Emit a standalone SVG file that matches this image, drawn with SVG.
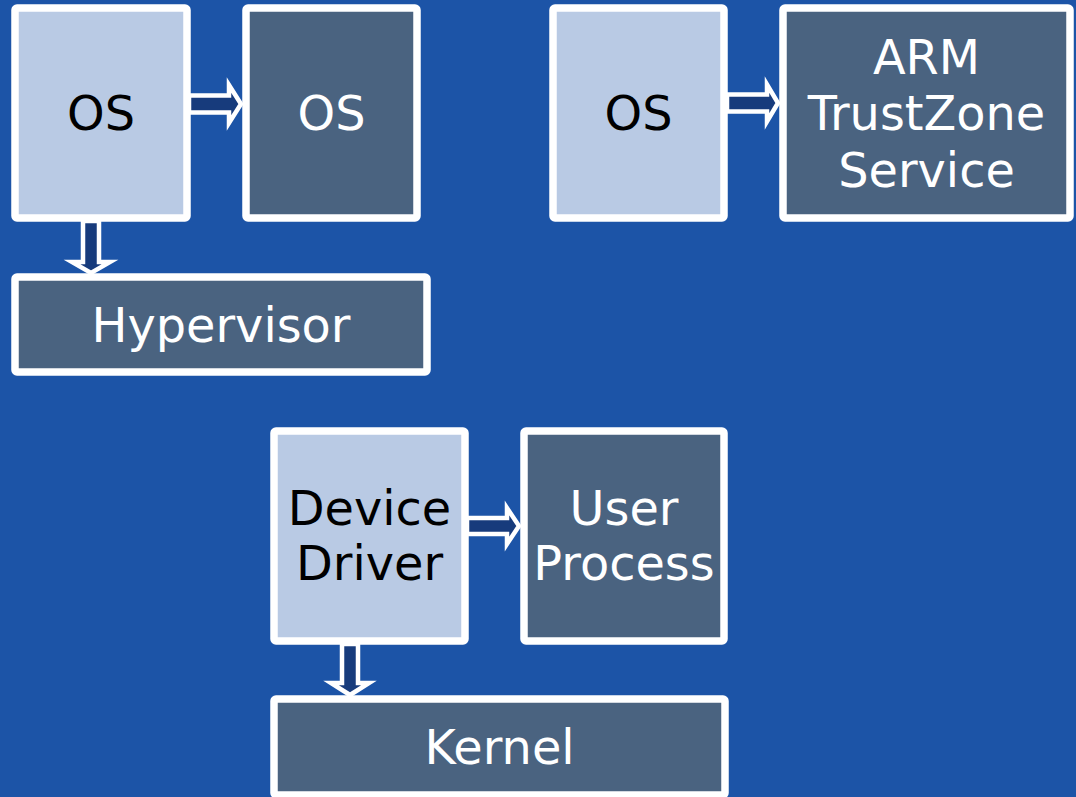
<svg xmlns="http://www.w3.org/2000/svg" width="1076" height="797" viewBox="0 0 1076 797">
  <style>
    .box { stroke: #ffffff; stroke-width: 7.5; stroke-linejoin: round; }
    .light { fill: #b9cae4; }
    .dark { fill: #4a6380; }
    .lbl { font-family: "DejaVu Sans", "Liberation Sans", sans-serif; font-size: 47.8px; text-anchor: middle; }
    .lbl-dark { fill: #000000; }
    .lbl-light { fill: #ffffff; }
    .arrow { fill: #173b7c; stroke: #ffffff; stroke-width: 4.5; stroke-linejoin: miter; }
  </style>

  <!-- background -->
  <rect x="0" y="0" width="1076" height="797" fill="#1c54a7"/>

  <g id="os-guest">
    <rect class="box light" x="15" y="8" width="172" height="210" rx="2"/>
    <text class="lbl lbl-dark" x="101" y="130">OS</text>
  </g>

  <g id="os-host">
    <rect class="box dark" x="246" y="8" width="171" height="210" rx="2"/>
    <text class="lbl lbl-light" x="331.5" y="130">OS</text>
  </g>

  <g id="os-secure">
    <rect class="box light" x="553" y="8" width="171" height="210" rx="2"/>
    <text class="lbl lbl-dark" x="638.5" y="130">OS</text>
  </g>

  <g id="trustzone">
    <rect class="box dark" x="783" y="8" width="287" height="210" rx="2"/>
    <text class="lbl lbl-light" x="926.5" y="73.5">ARM</text>
    <text class="lbl lbl-light" x="926.5" y="130">TrustZone</text>
    <text class="lbl lbl-light" x="926.5" y="186.5">Service</text>
  </g>

  <g id="hypervisor">
    <rect class="box dark" x="15" y="277" width="412" height="95" rx="2"/>
    <text class="lbl lbl-light" x="221" y="341.5">Hypervisor</text>
  </g>

  <g id="device-driver">
    <rect class="box light" x="274" y="431" width="191" height="210" rx="2"/>
    <text class="lbl lbl-dark" x="369.5" y="525">Device</text>
    <text class="lbl lbl-dark" x="369.5" y="580">Driver</text>
  </g>

  <g id="user-process">
    <rect class="box dark" x="524" y="431" width="200" height="210" rx="2"/>
    <text class="lbl lbl-light" x="624" y="525">User</text>
    <text class="lbl lbl-light" x="624" y="580">Process</text>
  </g>

  <g id="kernel">
    <rect class="box dark" x="274" y="699" width="451" height="96" rx="2"/>
    <text class="lbl lbl-light" x="499.5" y="763.5">Kernel</text>
  </g>

  <!-- block arrows between layers -->
  <g id="connectors">
    <path class="arrow" d="M189,95.5 H229 V85 L241,104 L229,123 V112.5 H189 Z"/>
    <path class="arrow" d="M727,94.5 H767 V84.5 L778,103 L767,121.5 V111.5 H727 Z"/>
    <path class="arrow" d="M467,518 H507 V508 L519,526 L507,544 V534 H467 Z"/>
    <path class="arrow" d="M83,221 V262 H72 L91,273 L110,262 H99 V221 Z"/>
    <path class="arrow" d="M342,644 V683 H331 L350,695 L369,683 H358 V644 Z"/>
  </g>
</svg>
